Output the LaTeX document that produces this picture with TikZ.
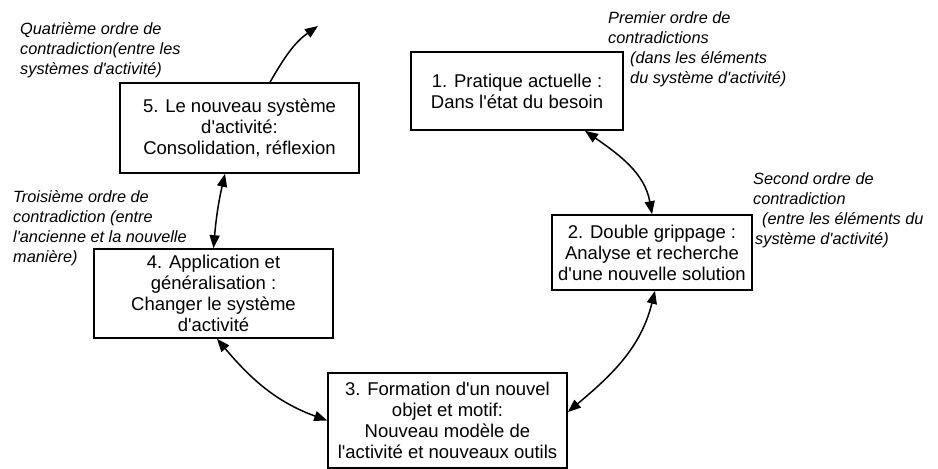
\documentclass[tikz,border=0pt]{standalone}
\usepackage{fontspec}
\setmainfont{Liberation Sans}
\usetikzlibrary{arrows.meta}
\newcommand{\ap}{\textquotesingle}
\begin{document}
\begin{tikzpicture}[x=1pt,y=1pt,
  box/.style={draw, line width=1.6pt, inner sep=0pt, align=center,
    font=\fontsize{18.5}{21}\selectfont},
  lab/.style={anchor=north west, inner sep=0pt, align=left,
    font=\fontsize{16.3}{20}\selectfont\itshape},
  arr/.style={{Triangle[length=13pt,width=10pt]}-{Triangle[length=13pt,width=10pt]}, line width=1.5pt},
  arrone/.style={-{Triangle[length=13pt,width=10pt]}, line width=1.5pt}
]
\useasboundingbox (0,0) rectangle (938,469);

\node[box, minimum width=212pt, minimum height=78pt] (b1) at (517,378)
  {1. Pratique actuelle :\\Dans l\ap état du besoin};
\node[box, minimum width=200pt, minimum height=75pt] (b2) at (652,216.5)
  {2. Double grippage :\\Analyse et recherche\\d\ap une nouvelle solution};
\node[box, minimum width=239pt, minimum height=95pt] (b3) at (447.5,48.5)
  {3. Formation d\ap un nouvel\\objet et motif:\\Nouveau modèle de\\l\ap activité et nouveaux outils};
\node[box, minimum width=239pt, minimum height=89pt] (b4) at (213.5,175.5)
  {4. Application et\\généralisation :\\Changer le système\\d\ap activité};
\node[box, minimum width=239pt, minimum height=90pt] (b5) at (239.5,341)
  {5. Le nouveau système\\d\ap activité:\\Consolidation, réflexion};

\node[lab] (l4) at (20,447)
  {Quatrième ordre de\\contradiction(entre les\\systèmes d\ap activité)};
\node[lab] (l1) at (608,458)
  {Premier ordre de\\contradictions\\\hspace*{22pt}(dans les éléments\\\hspace*{22pt}du système d\ap activité)};
\node[lab] (l2) at (753,297)
  {Second ordre de\\contradiction\\\hspace*{9pt}(entre les éléments du\\\hspace*{2pt}système d\ap activité)};
\node[lab] (l3) at (13,279)
  {Troisième ordre de\\contradiction (entre\\l\ap ancienne et la nouvelle\\manière)};

\coordinate (c0) at (318,443);
\draw[arrone] ([xshift=30.5pt]b5.north) to[out=60,in=-145] (c0);
\draw[arr] ([xshift=68pt]b1.south) to[out=-35,in=100] (b2.north);
\draw[arr] ([xshift=3pt]b2.south) to[out=-104,in=40] ([yshift=8.5pt]b3.east);
\draw[arr] ([xshift=3.5pt]b4.south) to[out=-50,in=160] (b3.west);
\draw[arr] ([xshift=-14.5pt]b5.south) to[out=-103,in=85] (b4.north);
\end{tikzpicture}
\end{document}
